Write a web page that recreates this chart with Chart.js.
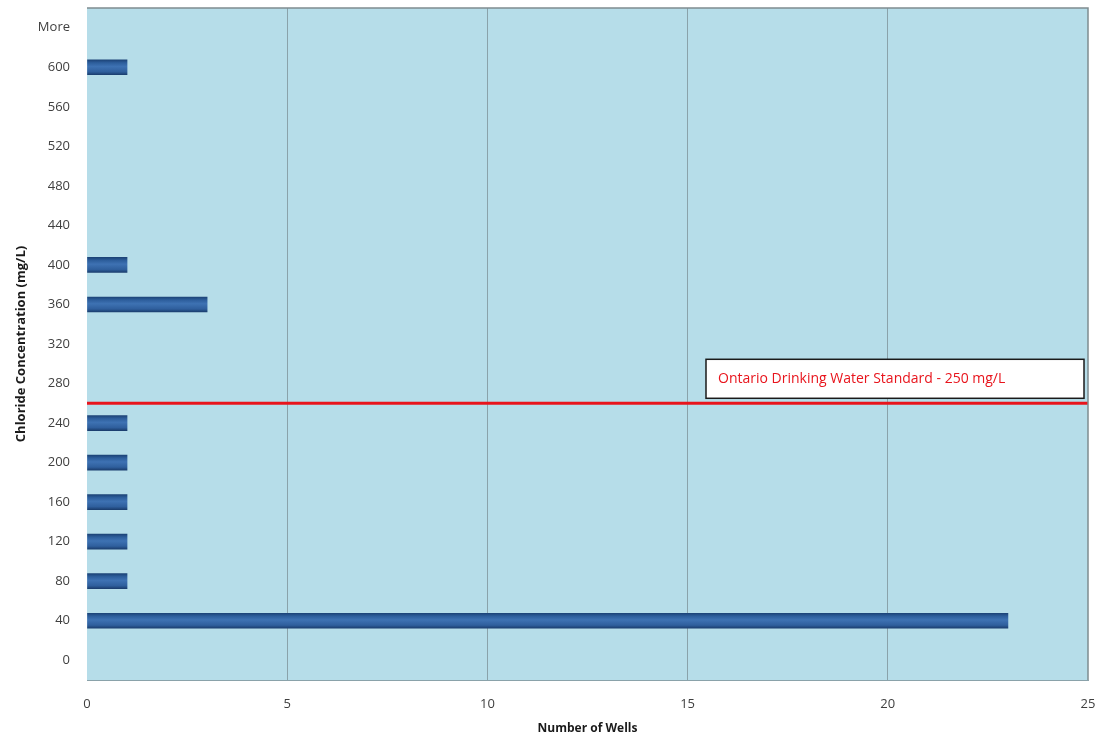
<!DOCTYPE html>
<html>
<head>
<meta charset="utf-8">
<script src="https://cdn.jsdelivr.net/npm/chart.js@4"></script>
<style>
  html, body { margin: 0; padding: 0; background: #fff; }
  #wrap { width: 1103px; height: 742px; position: relative; }
</style>
</head>
<body>
<div id="wrap"><canvas id="wellChart"></canvas></div>
<script>
const concentrations = ['0', '40', '80', '120', '160', '200', '240', '280', '320', '360', '400', '440', '480', '520', '560', '600', 'More'];
const wellCounts = [0, 23, 1, 1, 1, 1, 1, 0, 0, 3, 1, 0, 0, 0, 0, 1, 0];
const xTicks = [0, 5, 10, 15, 20, 25];
const standardLabel = 'Ontario Drinking Water Standard - 250 mg/L';
const standardPosition = 6.5; // between the 240 and 280 bins

const plotBg = '#b6dde9';
const barHalf = 7.5;

const standardLine = {
  id: 'standardLine',
  beforeDraw(chart) {
    const { ctx, chartArea: a } = chart;
    ctx.save();
    ctx.fillStyle = plotBg;
    ctx.fillRect(a.left, a.top, a.right - a.left, a.bottom - a.top);
    ctx.restore();
  },
  afterDatasetsDraw(chart) {
    const { ctx, chartArea: a, scales } = chart;
    const y = scales.y.getPixelForValue(standardPosition);
    ctx.save();
    ctx.strokeStyle = '#e8141c';
    ctx.lineWidth = 3;
    ctx.beginPath();
    ctx.moveTo(a.left, y);
    ctx.lineTo(a.right, y);
    ctx.stroke();

    // label box
    const boxRight = a.right - 4;
    const boxW = 378, boxH = 39;
    const boxX = boxRight - boxW, boxY = y - 5 - boxH;
    ctx.fillStyle = '#fff';
    ctx.fillRect(boxX, boxY, boxW, boxH);
    ctx.strokeStyle = '#1a1a1a';
    ctx.lineWidth = 1.5;
    ctx.strokeRect(boxX, boxY, boxW, boxH);
    ctx.fillStyle = '#e8141c';
    ctx.font = '14px "Open Sans", sans-serif';
    ctx.textBaseline = 'middle';
    ctx.fillText(standardLabel, boxX + 12, boxY + boxH / 2);

    // plot frame (top and right)
    ctx.strokeStyle = '#7f8c90';
    ctx.lineWidth = 1.5;
    ctx.beginPath();
    ctx.moveTo(a.left, a.top);
    ctx.lineTo(a.right, a.top);
    ctx.lineTo(a.right, a.bottom);
    ctx.stroke();
    ctx.restore();
  }
};

function barFill(context) {
  const chart = context.chart;
  const yScale = chart.scales && chart.scales.y;
  if (!context.raw) return 'rgba(0,0,0,0)';
  if (!yScale || !chart.chartArea) return '#2e5f9a';
  const yc = yScale.getPixelForValue(context.dataIndex);
  if (!isFinite(yc)) return '#2e5f9a';
  const g = chart.ctx.createLinearGradient(0, yc - barHalf, 0, yc + barHalf);
  g.addColorStop(0, '#1c4377');
  g.addColorStop(0.2, '#2d5e9c');
  g.addColorStop(0.45, '#3e72b3');
  g.addColorStop(0.8, '#2f5f9d');
  g.addColorStop(1, '#1b3e6f');
  return g;
}

const ctx = document.getElementById('wellChart').getContext('2d');

const wellChart = new Chart(ctx, {
  type: 'bar',
  data: {
    labels: concentrations,
    datasets: [{
      label: 'Number of Wells',
      data: wellCounts,
      backgroundColor: barFill,
      borderWidth: 0,
      barThickness: 15
    }]
  },
  options: {
    indexAxis: 'y',
    responsive: true,
    maintainAspectRatio: false,
    animation: false,
    layout: { padding: { left: 13, right: 15, top: 8, bottom: 0 } },
    plugins: {
      legend: { display: false },
      tooltip: { enabled: false }
    },
    scales: {
      x: {
        min: 0,
        max: 25,
        afterBuildTicks(scale) {
          scale.ticks = xTicks.map(v => ({ value: v }));
        },
        afterFit(scale) {
          scale.height = 62;
          scale.paddingLeft = 0;
          scale.paddingRight = 0;
        },
        grid: {
          color: ctx => (ctx.tick && (ctx.tick.value === 0 || ctx.tick.value === 25)) ? 'rgba(0,0,0,0)' : '#8aa2aa',
          lineWidth: 1,
          drawTicks: false
        },
        border: { display: true, color: '#8aa2aa', width: 1 },
        ticks: {
          color: '#404040',
          padding: 16,
          font: { family: '"Open Sans", sans-serif', size: 13 }
        },
        title: {
          display: true,
          text: 'Number of Wells',
          color: '#1a1a1a',
          padding: { top: 0, bottom: 6 },
          font: { family: '"Open Sans", sans-serif', size: 12, weight: 'bold' }
        }
      },
      y: {
        reverse: true,
        afterFit(scale) {
          scale.width = 74;
          scale.paddingTop = 0;
          scale.paddingBottom = 0;
        },
        grid: { display: false, drawTicks: false },
        border: { display: false },
        ticks: {
          color: '#404040',
          padding: 17,
          autoSkip: false,
          font: { family: '"Open Sans", sans-serif', size: 13 }
        },
        title: {
          display: true,
          text: 'Chloride Concentration (mg/L)',
          color: '#1a1a1a',
          padding: { top: 0, bottom: 0 },
          font: { family: '"Open Sans", sans-serif', size: 13, weight: 'bold' }
        }
      }
    }
  },
  plugins: [standardLine]
});
</script>
</body>
</html>
